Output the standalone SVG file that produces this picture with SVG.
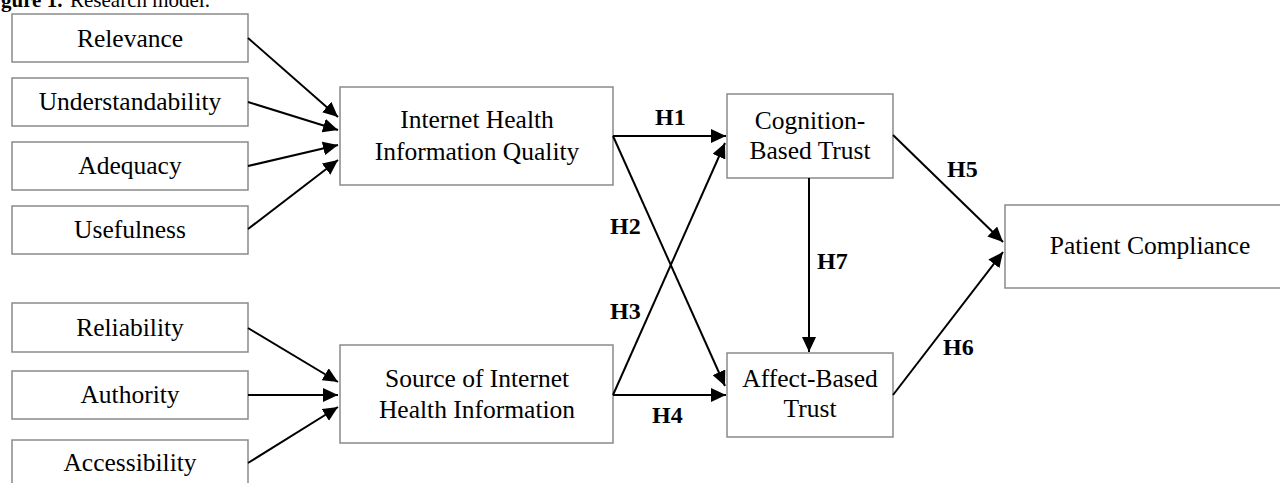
<svg xmlns="http://www.w3.org/2000/svg" width="1280" height="483" viewBox="0 0 1280 483">
<defs>
<style>
.box{fill:#fff;stroke:#8a8a8a;stroke-width:1.5}
.t{font-family:"Liberation Serif","Times New Roman",serif;font-size:25.5px;fill:#000;text-anchor:middle}
.h{font-family:"Liberation Serif","Times New Roman",serif;font-size:24px;font-weight:bold;fill:#000}
.cap{font-family:"Liberation Serif","Times New Roman",serif;font-size:21px;fill:#000}
.c{fill:none;stroke:#000;stroke-width:2;marker-end:url(#ah)}
</style>
<marker id="ah" markerUnits="userSpaceOnUse" markerWidth="16" markerHeight="14" refX="15" refY="7" orient="auto">
<path d="M0,0 L15,7 L0,14 Z" fill="#000"/>
</marker>
</defs>
<rect width="1280" height="483" fill="#fff"/>
<text class="cap" x="1" y="7"><tspan font-weight="bold">gure 1.</tspan><tspan x="70">Research model.</tspan></text>

<g id="n-relevance"><rect class="box" x="12" y="14" width="236" height="48"/><text class="t" x="130" y="47">Relevance</text></g>
<g id="n-understandability"><rect class="box" x="12" y="78" width="236" height="48"/><text class="t" x="130" y="110">Understandability</text></g>
<g id="n-adequacy"><rect class="box" x="12" y="142" width="236" height="48"/><text class="t" x="130" y="174">Adequacy</text></g>
<g id="n-usefulness"><rect class="box" x="12" y="206" width="236" height="48"/><text class="t" x="130" y="238">Usefulness</text></g>
<g id="n-reliability"><rect class="box" x="12" y="303" width="236" height="49"/><text class="t" x="130" y="336">Reliability</text></g>
<g id="n-authority"><rect class="box" x="12" y="371" width="236" height="48"/><text class="t" x="130" y="403">Authority</text></g>
<g id="n-accessibility"><rect class="box" x="12" y="440" width="236" height="60"/><text class="t" x="130" y="471">Accessibility</text></g>

<g id="n-ihiq"><rect class="box" x="340" y="87" width="273" height="98"/><text class="t" x="477" y="128">Internet Health</text><text class="t" x="477" y="160">Information Quality</text></g>
<g id="n-source"><rect class="box" x="340" y="345" width="273" height="98"/><text class="t" x="477" y="387">Source of Internet</text><text class="t" x="477" y="418">Health Information</text></g>
<g id="n-cognition"><rect class="box" x="727" y="94" width="166" height="84"/><text class="t" x="810" y="129">Cognition-</text><text class="t" x="810" y="159">Based Trust</text></g>
<g id="n-affect"><rect class="box" x="727" y="353" width="166" height="84"/><text class="t" x="810" y="387">Affect-Based</text><text class="t" x="810" y="417">Trust</text></g>
<g id="n-compliance"><rect class="box" x="1005" y="205" width="290" height="83"/><text class="t" x="1150" y="254">Patient Compliance</text></g>

<g id="connectors">
<line class="c" x1="248" y1="38" x2="338" y2="117"/>
<line class="c" x1="248" y1="102" x2="338" y2="130"/>
<line class="c" x1="248" y1="166" x2="338" y2="145"/>
<line class="c" x1="248" y1="229" x2="338" y2="160"/>
<line class="c" x1="248" y1="328" x2="338" y2="382"/>
<line class="c" x1="248" y1="395" x2="338" y2="395"/>
<line class="c" x1="248" y1="463" x2="338" y2="407"/>
<line class="c" x1="613" y1="136" x2="726" y2="136"/>
<line class="c" x1="613" y1="136" x2="725" y2="386"/>
<line class="c" x1="613" y1="395" x2="725" y2="143"/>
<line class="c" x1="613" y1="395" x2="726" y2="395"/>
<line class="c" x1="809" y1="178" x2="809" y2="352"/>
<line class="c" x1="893" y1="135" x2="1003" y2="242"/>
<line class="c" x1="893" y1="395" x2="1003" y2="252"/>
<text class="h" x="655" y="125">H1</text>
<text class="h" x="610" y="234">H2</text>
<text class="h" x="610" y="319">H3</text>
<text class="h" x="652" y="423">H4</text>
<text class="h" x="947" y="177">H5</text>
<text class="h" x="943" y="355">H6</text>
<text class="h" x="817" y="269">H7</text>
</g>
</svg>
